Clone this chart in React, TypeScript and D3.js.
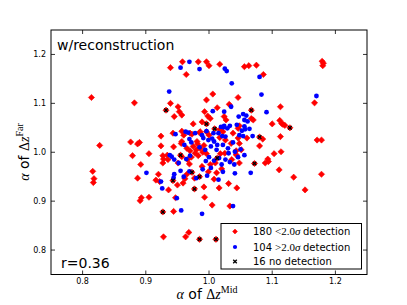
import React from 'react';
import * as d3 from 'd3';

// points below 2 sigma (red diamonds)
const lowSig: [number, number][] = [
  [0.939, 1.173], [0.958, 1.185], [0.983, 1.185], [0.996, 1.185], [1.000, 1.177], [1.017, 1.180],
  [1.056, 1.175], [1.063, 1.177], [1.075, 1.178], [1.086, 1.159], [0.964, 1.159],
  [1.179, 1.186], [1.181, 1.182], [1.180, 1.177],
  [0.814, 1.112], [0.882, 1.101], [1.167, 1.101],
  [1.006, 1.119], [0.996, 1.107], [0.939, 1.100], [0.951, 1.093], [0.932, 1.086],
  [0.953, 1.083], [0.957, 1.076], [0.945, 1.073], [1.013, 1.091], [1.032, 1.098], [1.046, 1.112],
  [0.993, 1.083], [1.024, 1.073], [1.027, 1.066], [1.002, 1.069], [0.989, 1.062], [0.998, 1.074],
  [1.067, 1.086], [1.067, 1.069], [1.070, 1.066], [1.100, 1.058],
  [1.113, 1.093], [1.112, 1.065], [1.115, 1.059], [1.117, 1.057], [1.120, 1.055], [1.128, 1.050],
  [0.975, 1.058], [0.996, 1.058], [1.009, 1.048], [1.046, 1.049], [1.017, 1.046],
  [0.957, 1.043], [0.943, 1.039], [0.970, 1.039], [0.986, 1.042], [1.038, 1.039],
  [0.924, 1.033], [0.960, 1.035], [1.000, 1.035], [1.017, 1.030], [1.046, 1.029], [1.060, 1.029],
  [1.080, 1.031], [1.085, 1.027], [1.113, 1.032], [1.171, 1.025], [1.178, 1.025],
  [0.876, 1.021], [0.827, 1.014], [0.887, 1.017], [0.890, 1.020], [0.924, 1.013], [0.944, 1.011], [0.956, 1.018],
  [0.973, 1.037], [0.985, 1.040], [0.996, 1.042], [1.022, 1.042], [1.048, 1.054],
  [0.957, 1.022], [0.981, 1.022], [1.035, 1.018], [1.048, 1.018], [1.080, 1.013], [1.026, 1.025],
  [0.975, 1.012], [0.980, 1.005], [0.986, 1.008], [0.990, 1.000], [0.978, 0.998], [0.970, 1.003], [0.992, 1.014],
  [0.983, 0.993], [0.972, 0.990], [0.996, 0.997], [0.965, 1.008], [0.982, 1.017],
  [0.879, 0.993], [0.905, 0.997], [0.892, 0.975], [0.927, 0.993], [0.928, 0.986], [0.927, 0.978], [0.934, 0.994], [0.955, 0.994],
  [0.951, 0.978], [0.957, 0.991], [0.966, 0.985], [0.969, 0.976], [0.989, 0.971], [0.999, 0.960], [1.002, 0.975], [1.013, 0.988],
  [1.018, 0.997], [1.025, 0.998], [1.010, 0.978], [1.020, 0.966], [1.036, 0.985], [1.043, 1.003], [1.043, 0.995], [1.048, 0.978],
  [1.051, 1.005], [1.072, 0.977], [1.089, 0.978], [1.094, 0.981], [1.093, 0.986], [1.103, 0.997], [1.114, 1.001], [1.111, 0.964],
  [1.134, 0.949], [1.152, 0.923], [1.178, 0.955],
  [0.816, 0.961], [0.818, 0.946], [0.817, 0.938], [0.887, 0.947], [0.916, 0.943], [0.920, 0.955], [0.922, 0.940],
  [0.936, 0.923], [0.943, 0.942], [0.950, 0.933], [0.959, 0.937], [0.962, 0.946], [0.965, 0.955],
  [0.973, 0.959], [0.977, 0.947], [0.985, 0.950], [0.977, 0.925], [0.992, 0.929], [0.993, 0.908], [1.016, 0.927],
  [1.012, 0.958], [1.031, 0.936], [1.044, 0.927], [1.008, 0.945], [0.935, 0.985],
  [0.893, 0.907], [0.891, 0.901], [0.905, 0.908], [0.947, 0.907], [0.927, 0.878], [0.944, 0.879], [1.005, 0.892], [1.033, 0.890],
  [0.928, 0.827], [0.963, 0.827], [0.968, 0.836], [0.985, 0.822], [1.011, 0.822],
];

// points above 2 sigma (blue circles)
const highSig: [number, number][] = [
  [0.969, 1.185], [0.955, 1.173], [0.985, 1.170], [1.025, 1.171], [1.028, 1.166], [1.080, 1.154], [1.036, 1.141],
  [0.937, 1.124], [1.083, 1.118], [1.170, 1.115], [1.091, 1.082], [1.035, 1.093], [1.006, 1.084], [1.024, 1.083],
  [1.047, 1.073], [1.054, 1.078], [1.056, 1.066], [1.059, 1.075], [1.061, 1.063], [1.064, 1.048], [1.057, 1.047], [1.069, 1.033],
  [1.056, 1.053], [1.052, 1.044], [1.024, 1.054], [1.019, 1.052], [1.029, 1.049], [1.033, 1.054], [1.023, 1.051], [1.044, 1.056],
  [0.963, 1.042], [0.947, 1.037], [0.967, 1.040], [0.978, 1.039], [0.989, 1.035], [0.996, 1.043], [1.007, 1.039], [1.015, 1.039],
  [1.021, 1.033], [1.048, 1.035], [1.026, 1.032], [1.054, 1.033],
  [0.969, 1.027], [0.972, 1.020], [0.991, 1.029], [0.999, 1.025], [1.005, 1.028], [1.008, 1.022], [1.013, 1.015], [1.022, 1.015],
  [1.038, 1.020], [0.961, 1.015], [0.985, 1.010], [0.994, 1.005], [1.003, 1.012], [1.012, 1.005], [1.030, 1.008], [1.041, 1.001],
  [1.056, 0.994], [1.050, 1.006], [0.938, 0.994], [0.941, 0.991], [0.945, 0.985], [0.952, 0.978], [0.964, 0.986], [0.970, 0.993],
  [1.000, 0.990], [1.008, 0.983], [1.016, 0.988], [1.026, 0.985], [1.033, 0.980], [1.040, 0.975], [1.020, 0.975], [0.995, 0.982],
  [1.022, 0.960], [1.041, 0.957], [1.066, 0.958], [1.015, 0.944], [0.997, 0.952], [0.990, 0.965], [0.969, 0.961],
  [0.945, 0.955], [0.955, 0.962], [0.960, 0.950], [0.944, 0.948], [0.924, 0.940], [0.926, 0.926], [0.901, 0.958],
  [0.949, 0.906], [0.956, 0.881], [0.989, 0.874], [1.038, 0.890], [0.980, 0.947], [1.003, 0.968], [1.031, 0.998], [1.046, 0.990],
];

// no detection (black x)
const noDet: [number, number][] = [
  [0.932, 1.086], [1.067, 1.086], [0.996, 1.058], [1.009, 1.048], [1.080, 1.031], [1.128, 1.050],
  [0.955, 0.994], [1.013, 0.988], [1.072, 0.977], [0.943, 0.942], [0.973, 0.959], [0.985, 0.950],
  [0.977, 0.925], [0.927, 0.878], [0.985, 0.822], [1.011, 0.822],
];

const xTicks = [0.8, 0.9, 1.0, 1.1, 1.2];
const yTicks = [0.8, 0.9, 1.0, 1.1, 1.2];
const legendCounts = ['180', '104', '16'];

const SANS = '"DejaVu Sans", sans-serif';
const SERIF = '"Liberation Serif", "DejaVu Serif", serif';

const diamond = 'M0,-3.1L3.1,0L0,3.1L-3.1,0Z';

const Cross = ({ cx, cy }: { cx: number; cy: number }) => (
  <g transform={`translate(${cx},${cy})`} stroke="#000" strokeWidth={1.3}>
    <line x1={-1.8} y1={-1.8} x2={1.8} y2={1.8} />
    <line x1={-1.8} y1={1.8} x2={1.8} y2={-1.8} />
  </g>
);

export default function App() {
  const W = 407, H = 305;
  const left = 51, right = 367, top = 30, bottom = 274.5;
  const x = d3.scaleLinear().domain([0.75, 1.25]).range([left, right]);
  const y = d3.scaleLinear().domain([0.75, 1.25]).range([bottom, top]);
  const fmt = d3.format('.1f');
  const tl = 4;

  return (
    <svg width={W} height={H} style={{ position: 'absolute', left: 0, top: 0 }}>
      <rect width={W} height={H} fill="#fff" />

      {/* points */}
      {lowSig.map(([a, b], i) => (
        <path key={'r' + i} d={diamond} transform={`translate(${x(a)},${y(b)})`} fill="#ff0000" stroke="#ff0000" strokeWidth={0.6} strokeLinejoin="round" />
      ))}
      {highSig.map(([a, b], i) => (
        <circle key={'b' + i} cx={x(a)} cy={y(b)} r={2.4} fill="#0000ff" />
      ))}
      {noDet.map(([a, b], i) => (
        <Cross key={'x' + i} cx={x(a)} cy={y(b)} />
      ))}

      {/* frame */}
      <rect x={left} y={top} width={right - left} height={bottom - top} fill="none" stroke="#000" strokeWidth={1} />

      {/* ticks */}
      {xTicks.map(t => (
        <g key={'xt' + t}>
          <line x1={x(t)} x2={x(t)} y1={bottom} y2={bottom - tl} stroke="#000" strokeWidth={0.8} />
          <line x1={x(t)} x2={x(t)} y1={top} y2={top + tl} stroke="#000" strokeWidth={0.8} />
          <text x={x(t)} y={284} textAnchor="middle" fontFamily={SANS} fontSize={8} fill="#000">{fmt(t)}</text>
        </g>
      ))}
      {yTicks.map(t => (
        <g key={'yt' + t}>
          <line x1={left} x2={left + tl} y1={y(t)} y2={y(t)} stroke="#000" strokeWidth={0.8} />
          <line x1={right} x2={right - tl} y1={y(t)} y2={y(t)} stroke="#000" strokeWidth={0.8} />
          <text x={46} y={y(t) + 3} textAnchor="end" fontFamily={SANS} fontSize={8} fill="#000">{fmt(t)}</text>
        </g>
      ))}

      {/* annotations */}
      <text x={57} y={50} fontFamily={SANS} fontSize={14} fill="#000">w/reconstruction</text>
      <text x={61} y={267.5} fontFamily={SANS} fontSize={14} fill="#000">r=0.36</text>

      {/* axis labels */}
      <text x={207} y={298.5} textAnchor="middle" fontSize={14} fill="#000">
        <tspan fontFamily={SERIF} fontStyle="italic">α</tspan>
        <tspan fontFamily={SANS}> of </tspan>
        <tspan fontFamily={SERIF}>Δ</tspan>
        <tspan fontFamily={SERIF} fontStyle="italic">z</tspan>
        <tspan fontFamily={SERIF} fontSize={10} dy={-6}>Mid</tspan>
      </text>
      <text transform="translate(29,152) rotate(-90)" textAnchor="middle" fontSize={14} fill="#000">
        <tspan fontFamily={SERIF} fontStyle="italic">α</tspan>
        <tspan fontFamily={SANS}> of </tspan>
        <tspan fontFamily={SERIF}>Δ</tspan>
        <tspan fontFamily={SERIF} fontStyle="italic">z</tspan>
        <tspan fontFamily={SERIF} fontSize={10} dy={-6}>Far</tspan>
      </text>

      {/* legend */}
      <rect x={221} y={223.5} width={140.5} height={45.5} fill="#fff" stroke="#000" strokeWidth={1} />
      <path d="M0,-2.4L2.4,0L0,2.4L-2.4,0Z" transform="translate(235,231.5)" fill="#ff0000" stroke="#ff0000" strokeWidth={0.6} />
      <circle cx={235} cy={247} r={2.1} fill="#0000ff" />
      <Cross cx={235} cy={261.5} />
      {[235, 250.5, 265].map((by, i) => (
        <text key={'lc' + i} x={253} y={by} fontFamily={SANS} fontSize={10} fill="#000">
          {i < 2 ? legendCounts[i] : `${legendCounts[i]} no detection`}
        </text>
      ))}
      <text x={275} y={235} fontFamily={SERIF} fontSize={11} fill="#000">
        {'<2.0'}<tspan fontStyle="italic">σ</tspan>
      </text>
      <text x={275} y={250.5} fontFamily={SERIF} fontSize={11} fill="#000">
        {'>2.0'}<tspan fontStyle="italic">σ</tspan>
      </text>
      <text x={303} y={235} fontFamily={SANS} fontSize={10} fill="#000">detection</text>
      <text x={303} y={250.5} fontFamily={SANS} fontSize={10} fill="#000">detection</text>
    </svg>
  );
}
